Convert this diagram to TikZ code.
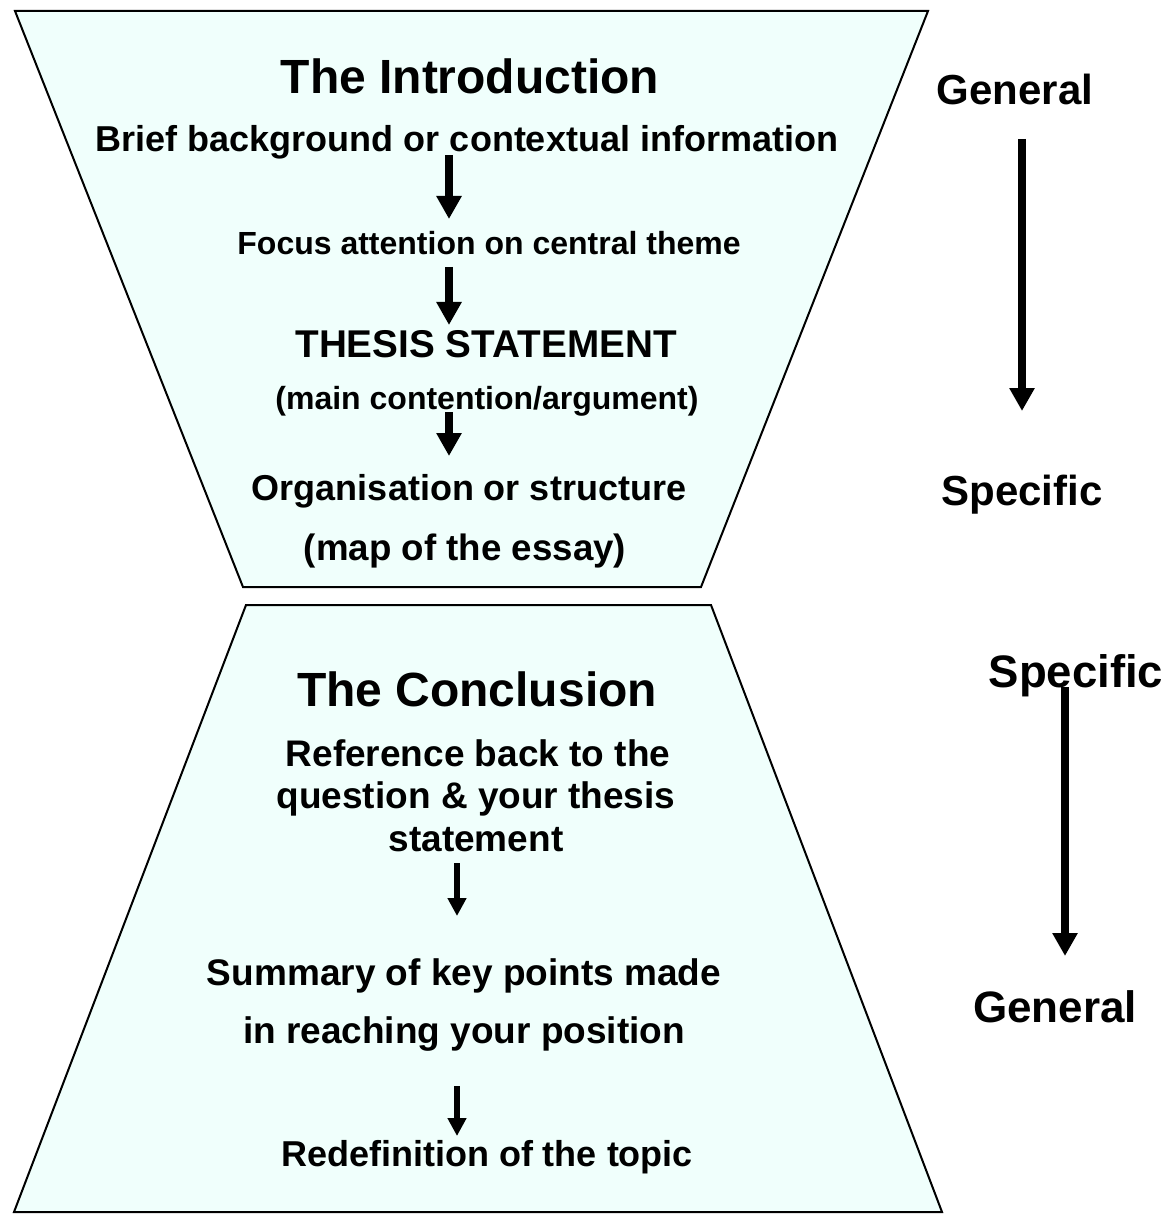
\documentclass[tikz,border=0pt]{standalone}
\usepackage{fontspec}
\setmainfont{Liberation Sans}
\usetikzlibrary{arrows.meta}
\definecolor{funnel}{RGB}{240,255,252}
\newcommand{\fsz}[1]{\fontsize{#1}{#1}\selectfont\bfseries}
\begin{document}
\begin{tikzpicture}[x=1pt,y=-1pt,
  txt/.style={inner sep=0pt, anchor=base},
  funnelshape/.style={draw=black, line width=2pt, fill=funnel, line join=miter},
  bigarrow/.style={line width=8pt, -{Triangle[width=24pt,length=23pt]}},
  smallarrow/.style={line width=6.5pt, -{Triangle[width=18pt,length=18pt]}}]
\path[use as bounding box] (0,0) rectangle (1171,1214);

% funnels
\draw[funnelshape] (15,11) -- (928,11) -- (701,587) -- (243,587) -- cycle;
\draw[funnelshape] (246,605) -- (711,605) -- (942,1212) -- (14,1212) -- cycle;

% introduction texts
\node[txt, font=\fsz{48}] (intro) at (470,94) {The Introduction};
\node[txt, font=\fsz{36}] (brief) at (467,152) {Brief background or contextual information};
\node[txt, font=\fsz{32}] (focus) at (489,255) {Focus attention on central theme};
\node[txt, font=\fsz{38.7}] (thesis) at (486,357) {THESIS STATEMENT};
\node[txt, font=\fsz{32}] (mainc) at (487,409) {(main contention/argument)};
\node[txt, font=\fsz{36}] (organ) at (469,500) {Organisation or structure};
\node[txt, font=\fsz{36.7}] (map) at (465,560) {(map of the essay)};

% conclusion texts
\node[txt, font=\fsz{48}] (concl) at (477,706) {The Conclusion};
\node[txt, font=\fsz{37}] (ref1) at (478,766) {Reference back to the};
\node[txt, font=\fsz{37}] (ref2) at (476,808) {question \& your thesis};
\node[txt, font=\fsz{37}] (ref3) at (476,851) {statement};
\node[txt, font=\fsz{37}] (summ1) at (464,985) {Summary of key points made};
\node[txt, font=\fsz{37}] (summ2) at (464,1043) {in reaching your position};
\node[txt, font=\fsz{36}] (redef) at (487,1166) {Redefinition of the topic};

% side labels
\node[txt, font=\fsz{42}] (gen1) at (1015,105) {General};
\node[txt, font=\fsz{42}] (spec1) at (1022,505) {Specific};
\node[txt, font=\fsz{45.5}] (spec2) at (1076,687) {Specific};
\node[txt, font=\fsz{44}] (gen2) at (1055,1022) {General};

% arrow end points
\coordinate (a1s) at (449,155);  \coordinate (a1e) at (449,219);
\coordinate (a2s) at (449,267);  \coordinate (a2e) at (449,325);
\coordinate (a3s) at (449,412);  \coordinate (a3e) at (449,456);
\coordinate (c1s) at (457,863);  \coordinate (c1e) at (457,916);
\coordinate (c2s) at (457,1086); \coordinate (c2e) at (457,1136);
\coordinate (g1s) at (1022,139); \coordinate (g1e) at (1022,411);
\coordinate (g2s) at (1065,687); \coordinate (g2e) at (1065,956);

\draw[bigarrow] (a1s) -- (a1e);
\draw[bigarrow] (a2s) -- (a2e);
\draw[bigarrow] (a3s) -- (a3e);
\draw[smallarrow] (c1s) -- (c1e);
\draw[smallarrow] (c2s) -- (c2e);
\draw[bigarrow] (g1s) -- (g1e);
\draw[bigarrow] (g2s) -- (g2e);
\end{tikzpicture}
\end{document}
